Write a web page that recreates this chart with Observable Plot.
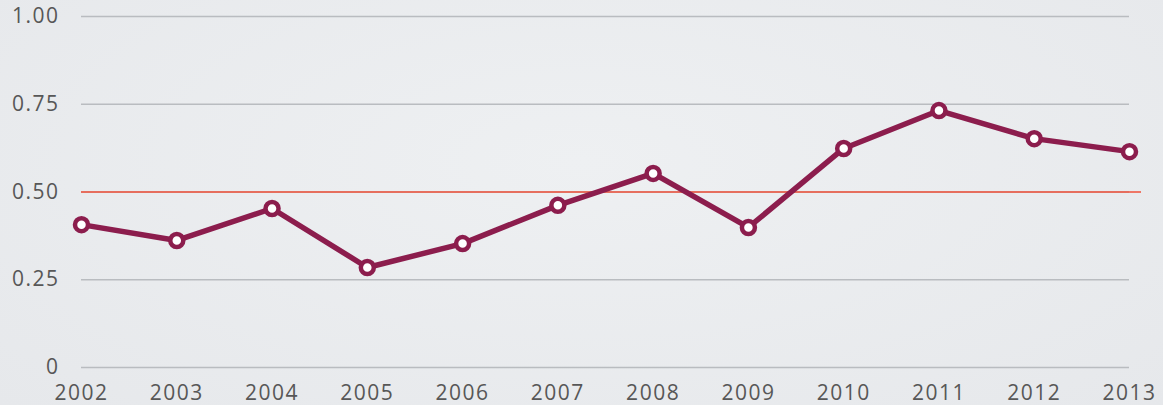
<!DOCTYPE html>
<html>
<head>
<meta charset="utf-8">
<script src="https://cdn.jsdelivr.net/npm/d3@7"></script>
<script src="https://cdn.jsdelivr.net/npm/@observablehq/plot@0.6"></script>
<style>
  html, body { margin: 0; padding: 0; }
  body { width: 1163px; height: 405px; overflow: hidden;
         background: radial-gradient(ellipse at 50% 40%, #eef0f2 0%, #e6e8eb 100%); }
  #chart svg { display: block; }
  #chart svg text { letter-spacing: 1.5px; }
</style>
</head>
<body>
<div id="chart"></div>
<script>
const years = [2002, 2003, 2004, 2005, 2006, 2007, 2008, 2009, 2010, 2011, 2012, 2013];
const values = [0.407, 0.362, 0.453, 0.285, 0.353, 0.462, 0.553, 0.399, 0.624, 0.732, 0.652, 0.615];
const yTicks = [0, 0.25, 0.5, 0.75, 1];
const yTickLabels = ["0", "0.25", "0.50", "0.75", "1.00"];
const threshold = 0.5;

const data = years.map((y, i) => ({year: y, value: values[i]}));
const lineColor = "#8c1d4d";

const chart = Plot.plot({
  width: 1163,
  height: 405,
  marginLeft: 81,
  marginRight: 34,
  marginTop: 16,
  marginBottom: 38,
  style: {background: "transparent", fontFamily: "'Open Sans', Lato, sans-serif", fontSize: "20px", color: "#5a5a5a"},
  x: {domain: [years[0], years[years.length - 1]], label: null},
  y: {domain: [0, 1], label: null},
  marks: [
    Plot.ruleY(yTicks, {stroke: "#b9bcc0", strokeWidth: 1.5}),
    Plot.ruleY([threshold], {stroke: "#f0503a", strokeWidth: 1.5, insetRight: -12}),
    Plot.line(data, {x: "year", y: "value", stroke: lineColor, strokeWidth: 5.5}),
    Plot.dot(data, {x: "year", y: "value", r: 6.5, fill: "white", stroke: lineColor, strokeWidth: 4.5}),
    Plot.axisX({ticks: years, tickFormat: d => String(d), tickSize: 0, tickPadding: 18, fontSize: 21, fill: "#575757"}),
    Plot.axisY({ticks: yTicks, tickFormat: (d, i) => yTickLabels[i], tickSize: 0, tickPadding: 22, fontSize: 21, fill: "#575757"})
  ]
});
document.getElementById("chart").appendChild(chart);
</script>
</body>
</html>
